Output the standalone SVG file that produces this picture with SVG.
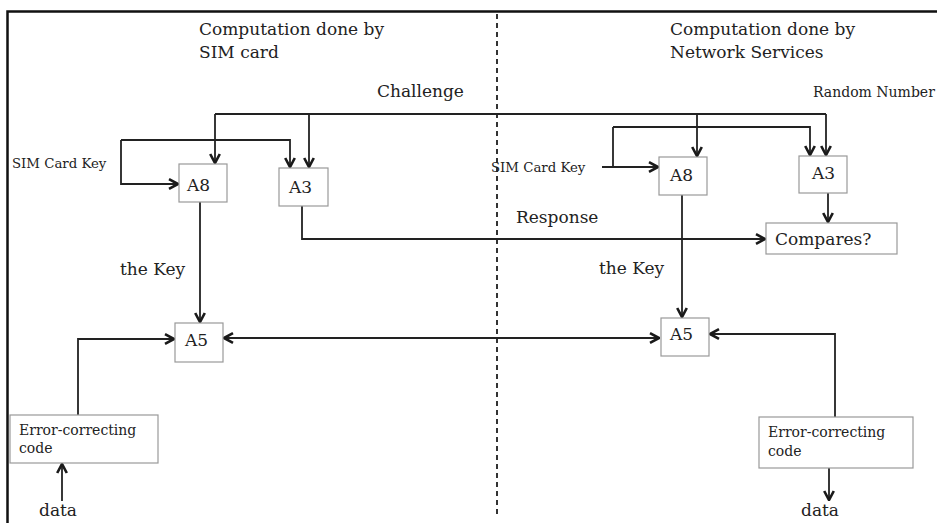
<svg xmlns="http://www.w3.org/2000/svg" width="937" height="523" viewBox="0 0 937 523">
<style>
text{font-family:"DejaVu Serif","Liberation Serif",serif;fill:#222;}
.t17{font-size:17px;}
.t14{font-size:14px;}
.t13{font-size:13.3px;}
.box{fill:#fff;stroke:#999;stroke-width:1.2;}
.ln{fill:none;stroke:#222;stroke-width:1.8;}
.ar{marker-end:url(#ah);}
</style>
<defs>
<marker id="ah" viewBox="0 0 10 10" refX="9" refY="5" markerWidth="12" markerHeight="12" markerUnits="userSpaceOnUse" orient="auto-start-reverse">
<path d="M1.5,1 L9,5 L1.5,9" fill="none" stroke="#1a1a1a" stroke-width="2.2"/>
</marker>
</defs>
<rect width="937" height="523" fill="#fff"/>
<path d="M7.5,523 V11.5 H937" fill="none" stroke="#111" stroke-width="2.5"/>
<line x1="497" y1="14" x2="497" y2="514" stroke="#333" stroke-width="2" stroke-dasharray="5 4"/>

<g id="headers">
<text class="t17" x="199" y="35">Computation done by</text>
<text class="t17" x="199" y="58">SIM card</text>
<text class="t17" x="670" y="35">Computation done by</text>
<text class="t17" x="670" y="58">Network Services</text>
</g>

<g id="connectors">
<path class="ln" d="M215,114 H826"/>
<path class="ln ar" d="M215,114 V163"/>
<path class="ln ar" d="M309,114 V167"/>
<path class="ln ar" d="M697,114 V156"/>
<path class="ln ar" d="M826,114 V155"/>
<path class="ln ar" d="M121,140 H290 V167"/>
<path class="ln ar" d="M121,140 V184 H178"/>
<path class="ln ar" d="M613,127 H810 V155"/>
<path class="ln" d="M613,127 V167"/>
<path class="ln ar" d="M602,167 H658"/>
<path class="ln ar" d="M200,202 V322"/>
<path class="ln ar" d="M302,206 V239 H765"/>
<path class="ln ar" d="M682,195 V317"/>
<path class="ln ar" d="M828,193 V222"/>
<path class="ln ar" d="M224,338 H659" style="marker-start:url(#ah)"/>
<path class="ln ar" d="M78,415 V339 H174"/>
<path class="ln ar" d="M835,417 V334 H710"/>
<path class="ln ar" d="M62,501 V464"/>
<path class="ln ar" d="M829,468 V500"/>
</g>

<g id="labels">
<text class="t13" x="12" y="168">SIM Card Key</text>
<text class="t13" x="491" y="172">SIM Card Key</text>
<text class="t17" x="377" y="97">Challenge</text>
<text class="t14" x="813" y="97">Random Number</text>
<text class="t17" x="516" y="223">Response</text>
<text class="t17" x="120" y="275">the Key</text>
<text class="t17" x="599" y="274">the Key</text>
<text class="t17" x="39" y="516">data</text>
<text class="t17" x="801" y="516">data</text>
</g>

<g id="a8-sim"><rect class="box" x="179" y="164" width="48" height="38"/><text class="t17" x="187" y="191">A8</text></g>
<g id="a3-sim"><rect class="box" x="279" y="168" width="49" height="38"/><text class="t17" x="289" y="193">A3</text></g>
<g id="a5-sim"><rect class="box" x="175" y="323" width="48" height="39"/><text class="t17" x="185" y="346">A5</text></g>
<g id="ecc-sim"><rect class="box" x="10" y="415" width="148" height="48"/><text class="t14" x="19" y="435">Error-correcting</text><text class="t14" x="19" y="453">code</text></g>
<g id="a8-net"><rect class="box" x="659" y="157" width="48" height="38"/><text class="t17" x="670" y="181">A8</text></g>
<g id="a3-net"><rect class="box" x="799" y="156" width="48" height="37"/><text class="t17" x="812" y="179">A3</text></g>
<g id="compares"><rect class="box" x="766" y="223" width="131" height="31"/><text class="t17" x="775" y="245">Compares?</text></g>
<g id="a5-net"><rect class="box" x="661" y="318" width="48" height="38"/><text class="t17" x="670" y="340">A5</text></g>
<g id="ecc-net"><rect class="box" x="759" y="417" width="154" height="51"/><text class="t14" x="768" y="437">Error-correcting</text><text class="t14" x="768" y="456">code</text></g>
</svg>
